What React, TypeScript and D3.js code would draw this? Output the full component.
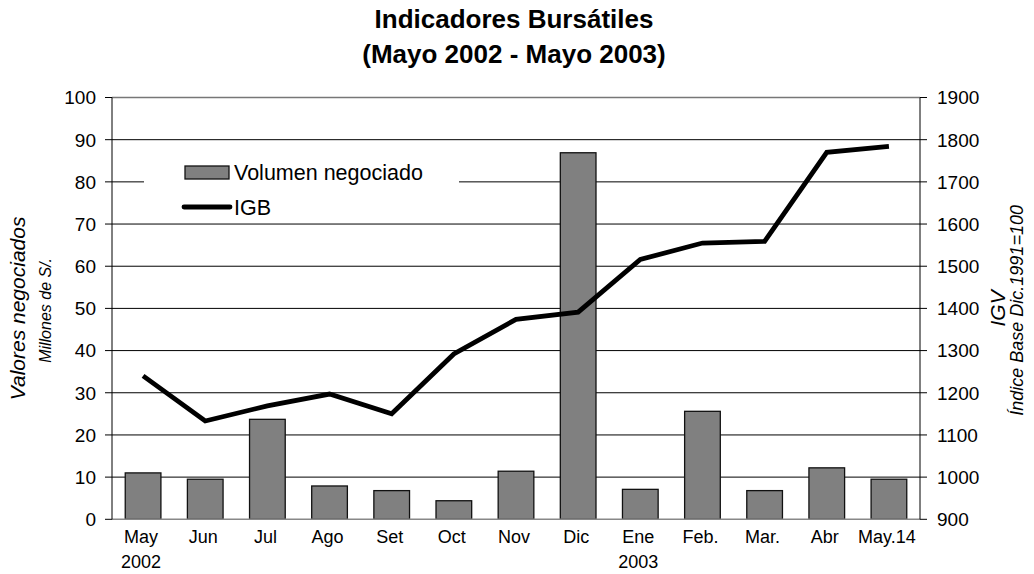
import * as d3 from "d3";
import { useEffect, useRef } from "react";

// data
const meses = ["May", "Jun", "Jul", "Ago", "Set", "Oct", "Nov", "Dic", "Ene", "Feb.", "Mar.", "Abr", "May.14"];
const anios = ["2002", "", "", "", "", "", "", "", "2003", "", "", "", ""];
const volumen = [11.0, 9.5, 23.7, 7.9, 6.8, 4.4, 11.4, 86.9, 7.1, 25.6, 6.8, 12.2, 9.5];
const igb = [1240, 1133, 1169, 1197, 1150, 1292, 1374, 1391, 1516, 1555, 1559, 1770, 1784];
const ticksIzq = [0, 10, 20, 30, 40, 50, 60, 70, 80, 90, 100];
const ticksDer = [900, 1000, 1100, 1200, 1300, 1400, 1500, 1600, 1700, 1800, 1900];

const FONT = "'Liberation Sans', Arial, sans-serif";

const App = () => {
  const ref = useRef<SVGSVGElement>(null);

  useEffect(() => {
    d3.select(ref.current).selectAll("*").remove();

    const width = 1034,
      height = 574;
    const left = 112,
      right = 920,
      top = 97.5,
      bottom = 519.3;

    const svg = d3.select(ref.current)
      .attr("width", width)
      .attr("height", height)
      .style("font-family", FONT);

    svg.append("rect").attr("width", width).attr("height", height).attr("fill", "white");

    var x = d3.scaleBand()
      .domain(meses.map((d, i) => i + ""))
      .range([left, right])
      .paddingInner(0.426)
      .paddingOuter(0.213);

    var step = (right - left) / meses.length;
    var cx = (i) => left + step * (i + 0.5);

    var y = d3.scaleLinear().domain([0, 100]).range([bottom, top]);
    var y2 = d3.scaleLinear().domain([900, 1900]).range([bottom, top]);

    // gridlines
    svg.append("g")
      .selectAll("line")
      .data(ticksIzq.filter(d => d > 0 && d < 100))
      .join("line")
      .attr("x1", left)
      .attr("x2", right)
      .attr("y1", d => y(d))
      .attr("y2", d => y(d))
      .attr("stroke", "#000")
      .attr("stroke-width", 1);

    svg.append("line")
      .attr("x1", left).attr("x2", right)
      .attr("y1", y(100)).attr("y2", y(100))
      .attr("stroke", "#777").attr("stroke-width", 1.5);

    // legend background hides the gridline under it
    svg.append("rect")
      .attr("x", 144)
      .attr("y", 152)
      .attr("width", 315)
      .attr("height", 64)
      .attr("fill", "white");

    // bars
    svg.append("g")
      .selectAll("rect")
      .data(volumen)
      .join("rect")
      .attr("x", (d, i) => x(i + ""))
      .attr("y", d => y(d))
      .attr("width", x.bandwidth())
      .attr("height", d => y(0) - y(d))
      .attr("fill", "#808080")
      .attr("stroke", "#111")
      .attr("stroke-width", 1.3);

    // bottom axis line
    svg.append("line")
      .attr("x1", left).attr("x2", right)
      .attr("y1", bottom).attr("y2", bottom)
      .attr("stroke", "#888").attr("stroke-width", 1.5);

    // IGB line
    var line = d3.line<number>()
      .x((d, i) => cx(i))
      .y(d => y2(d));

    svg.append("path")
      .datum(igb)
      .attr("d", line)
      .attr("fill", "none")
      .attr("stroke", "#000")
      .attr("stroke-width", 4.8)
      .attr("stroke-linejoin", "miter");

    // left axis
    svg.append("line")
      .attr("x1", left).attr("x2", left)
      .attr("y1", top).attr("y2", bottom)
      .attr("stroke", "#000");
    const gl = svg.append("g")
      .selectAll("g")
      .data(ticksIzq)
      .join("g");
    gl.append("line")
      .attr("x1", left - 7).attr("x2", left)
      .attr("y1", d => y(d)).attr("y2", d => y(d))
      .attr("stroke", "#000");
    gl.append("text")
      .attr("x", 96)
      .attr("y", d => y(d))
      .attr("dy", "0.36em")
      .attr("text-anchor", "end")
      .attr("font-size", 19)
      .text(d => d);

    // right axis
    svg.append("line")
      .attr("x1", right).attr("x2", right)
      .attr("y1", top).attr("y2", bottom)
      .attr("stroke", "#000");
    const gr = svg.append("g")
      .selectAll("g")
      .data(ticksDer)
      .join("g");
    gr.append("line")
      .attr("x1", right).attr("x2", right + 7)
      .attr("y1", d => y2(d)).attr("y2", d => y2(d))
      .attr("stroke", "#000");
    gr.append("text")
      .attr("x", 937)
      .attr("y", d => y2(d))
      .attr("dy", "0.36em")
      .attr("font-size", 19)
      .text(d => d);

    // category labels
    const gc = svg.append("g")
      .selectAll("g")
      .data(meses)
      .join("g");
    gc.append("text")
      .attr("x", (d, i) => cx(i) - 2)
      .attr("y", 543)
      .attr("text-anchor", "middle")
      .attr("font-size", 18)
      .text(d => d);
    gc.append("text")
      .attr("x", (d, i) => cx(i) - 2)
      .attr("y", 568)
      .attr("text-anchor", "middle")
      .attr("font-size", 18)
      .text((d, i) => anios[i]);

    // titles
    svg.append("text")
      .attr("x", 514).attr("y", 28)
      .attr("text-anchor", "middle")
      .attr("font-size", 26)
      .attr("font-weight", "bold")
      .text("Indicadores Bursátiles");
    svg.append("text")
      .attr("x", 514).attr("y", 63)
      .attr("text-anchor", "middle")
      .attr("font-size", 26)
      .attr("font-weight", "bold")
      .text("(Mayo 2002 - Mayo 2003)");

    const mid = (top + bottom) / 2;
    const rot = (tx, ty, txt, size) =>
      svg.append("text")
        .attr("transform", `translate(${tx},${ty}) rotate(-90)`)
        .attr("text-anchor", "middle")
        .attr("font-size", size)
        .attr("font-style", "italic")
        .text(txt);
    rot(25, mid, "Valores negociados", 21);
    rot(51, mid + 2, "Millones de S/.", 16);
    rot(1005, mid, "IGV", 21);
    rot(1023, mid + 2, "Índice Base Dic.1991=100", 18);

    // legend
    svg.append("rect")
      .attr("x", 185).attr("y", 166)
      .attr("width", 44).attr("height", 13)
      .attr("fill", "#808080")
      .attr("stroke", "#111")
      .attr("stroke-width", 1.3);
    svg.append("text")
      .attr("x", 234).attr("y", 172.5)
      .attr("dy", "0.36em")
      .attr("font-size", 21.5)
      .text("Volumen negociado");
    svg.append("line")
      .attr("x1", 184).attr("x2", 230)
      .attr("y1", 207).attr("y2", 207)
      .attr("stroke", "#000")
      .attr("stroke-width", 4.8)
      .attr("stroke-linecap", "round");
    svg.append("text")
      .attr("x", 234).attr("y", 207)
      .attr("dy", "0.36em")
      .attr("font-size", 21.5)
      .text("IGB");
  }, []);

  return <svg ref={ref} width={1034} height={574} style={{ position: "absolute", left: 0, top: 0 }} />;
};

export default App;
